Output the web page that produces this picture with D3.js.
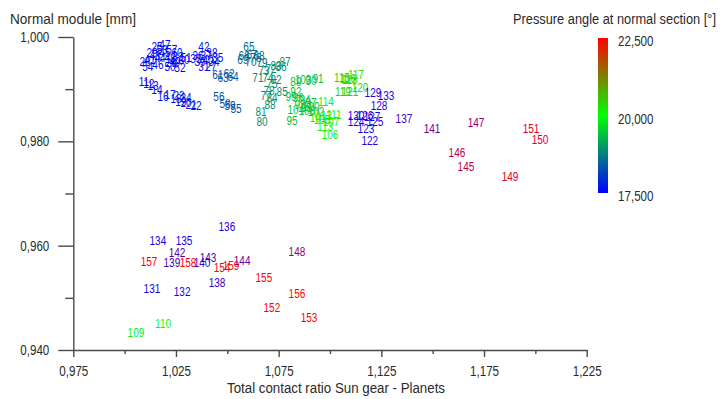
<!DOCTYPE html>
<html>
<head>
<meta charset="utf-8">
<script src="https://cdn.jsdelivr.net/npm/d3@7"></script>
<style>
  body { margin: 0; background: #fff; }
  svg text { font-family: "Liberation Sans", Arial, sans-serif; }
</style>
</head>
<body>
<svg id="chart" width="722" height="399"></svg>
<script>
// variant numbers shown as labels
const ids = [
  41, 43, 44, 45, 46, 47, 48, 49, 50, 51, 52, 53, 54, 57, 60, 30, 32, 29, 28, 25, 26,
  42, 36, 37, 38, 39, 40, 33, 34, 35, 31, 27,
  61, 62, 63, 64,
  65, 66, 67, 68, 69, 70, 76, 79,
  11, 12, 13, 14,
  16, 17, 18, 19, 20, 21, 22, 23, 24,
  56, 58, 59, 55,
  71, 73, 74, 72, 83, 86, 87, 82, 75, 78, 85, 77, 84, 88, 81, 80,
  89, 103, 90, 91, 99, 96, 94, 93, 97, 98, 92, 104, 108, 100, 102, 95,
  114, 112, 111, 107, 113, 105, 101, 106,
  115, 116, 117, 118, 119, 121, 120,
  129, 133, 128, 130, 126, 127, 124, 125, 123, 122,
  137, 141, 147, 146, 145, 149, 151, 150,
  136, 134, 135, 142, 143, 144, 157, 139, 158, 140, 154, 159, 148, 155, 138, 131, 132, 156, 152, 153, 110, 109
];

// Total contact ratio Sun gear - Planets
const contactRatio = [
  1.0123, 1.0148, 1.0172, 1.0196, 1.0162, 1.0196, 1.0221, 1.0245, 1.0221, 1.0299, 1.0269, 1.0182, 1.0113, 1.0230, 1.0255, 1.0289, 1.0260, 1.0133, 1.0099, 1.0158, 1.0226,
  1.0386, 1.0357, 1.0396, 1.0425, 1.0367, 1.0406, 1.0347, 1.0435, 1.0454, 1.0386, 1.0420,
  1.0454, 1.0508, 1.0479, 1.0528,
  1.0605, 1.0581, 1.0620, 1.0654, 1.0576, 1.0615, 1.0639, 1.0669,
  1.0094, 1.0118, 1.0138, 1.0157,
  1.0187, 1.0221, 1.0250, 1.0274, 1.0299, 1.0323, 1.0348, 1.0265, 1.0299,
  1.0459, 1.0489, 1.0513, 1.0542,
  1.0649, 1.0678, 1.0698, 1.0713, 1.0737, 1.0762, 1.0781, 1.0737, 1.0718, 1.0703, 1.0767, 1.0689, 1.0718, 1.0708, 1.0664, 1.0669,
  1.0834, 1.0869, 1.0908, 1.0942, 1.0810, 1.0844, 1.0878, 1.0854, 1.0908, 1.0884, 1.0834, 1.0834, 1.0888, 1.0908, 1.0932, 1.0815,
  1.0980, 1.0971, 1.1019, 1.1005, 1.0976, 1.0961, 1.0942, 1.1000,
  1.1058, 1.1088, 1.1126, 1.1097, 1.1063, 1.1097, 1.1146,
  1.1209, 1.1273, 1.1239, 1.1127, 1.1170, 1.1205, 1.1127, 1.1219, 1.1175, 1.1194,
  1.1360, 1.1497, 1.1711, 1.1618, 1.1662, 1.1877, 1.1979, 1.2023,
  1.0498, 1.0162, 1.0289, 1.0255, 1.0406, 1.0572, 1.0119, 1.0230, 1.0309, 1.0377, 1.0474, 1.0518, 1.0839, 1.0678, 1.0450, 1.0133, 1.0280, 1.0839, 1.0717, 1.0898, 1.0187, 1.0055
];

// Normal module [mm]
const normalModule = [
  0.9956, 0.9965, 0.9960, 0.9971, 0.9948, 0.9985, 0.9960, 0.9952, 0.9944, 0.9960, 0.9941, 0.9975, 0.9944, 0.9975, 0.9971, 0.9956, 0.9962, 0.9971, 0.9952, 0.9981, 0.9950,
  0.9981, 0.9965, 0.9965, 0.9971, 0.9952, 0.9956, 0.9958, 0.9952, 0.9960, 0.9944, 0.9944,
  0.9927, 0.9929, 0.9923, 0.9925,
  0.9981, 0.9965, 0.9967, 0.9964, 0.9956, 0.9952, 0.9960, 0.9950,
  0.9914, 0.9910, 0.9906, 0.9900,
  0.9885, 0.9889, 0.9881, 0.9877, 0.9875, 0.9871, 0.9868, 0.9887, 0.9883,
  0.9885, 0.9873, 0.9868, 0.9862,
  0.9923, 0.9935, 0.9923, 0.9939, 0.9946, 0.9944, 0.9952, 0.9918, 0.9910, 0.9898, 0.9895, 0.9887, 0.9883, 0.9871, 0.9856, 0.9837,
  0.9914, 0.9919, 0.9916, 0.9921, 0.9885, 0.9883, 0.9879, 0.9871, 0.9875, 0.9864, 0.9895, 0.9860, 0.9858, 0.9866, 0.9856, 0.9839,
  0.9877, 0.9850, 0.9852, 0.9837, 0.9829, 0.9841, 0.9845, 0.9812,
  0.9923, 0.9921, 0.9927, 0.9918, 0.9896, 0.9896, 0.9902,
  0.9893, 0.9887, 0.9868, 0.9850, 0.9850, 0.9847, 0.9837, 0.9837, 0.9824, 0.9802,
  0.9843, 0.9825, 0.9835, 0.9779, 0.9751, 0.9733, 0.9824, 0.9804,
  0.9636, 0.9609, 0.9609, 0.9586, 0.9578, 0.9572, 0.9570, 0.9568, 0.9568, 0.9567, 0.9557, 0.9561, 0.9588, 0.9538, 0.9530, 0.9517, 0.9511, 0.9509, 0.9482, 0.9463, 0.9450, 0.9434
];

// Pressure angle at normal section [°]
const pressureAngle = [
  17.55, 17.55, 17.55, 17.55, 17.55, 17.55, 17.55, 17.55, 17.55, 17.55, 17.55, 17.55, 17.55, 17.55, 17.55, 17.55, 17.55, 17.55, 17.55, 17.55, 17.55,
  17.65, 17.65, 17.65, 17.65, 17.65, 17.65, 17.65, 17.65, 17.65, 17.65, 17.65,
  18.35, 18.35, 18.35, 18.35,
  18.55, 18.55, 18.55, 18.55, 18.55, 18.55, 18.55, 18.55,
  17.6, 17.6, 17.6, 17.6,
  17.7, 17.7, 17.7, 17.7, 17.7, 17.7, 17.7, 17.7, 17.7,
  18.3, 18.3, 18.3, 18.3,
  18.9, 18.9, 18.9, 18.9, 18.9, 18.9, 18.9, 18.9, 18.9, 18.9, 18.9, 18.9, 18.9, 18.9, 18.9, 18.9,
  19.4, 19.4, 19.4, 19.4, 19.4, 19.4, 19.4, 19.4, 19.4, 19.4, 19.4, 19.4, 19.4, 19.4, 19.4, 19.4,
  20.1, 20.1, 20.1, 20.1, 20.1, 20.1, 20.1, 20.1,
  20.4, 20.4, 20.4, 20.4, 20.4, 20.4, 20.4,
  17.25, 17.25, 17.25, 17.25, 17.25, 17.25, 17.25, 17.25, 17.25, 17.25,
  17.0, 16.5, 16.1, 15.8, 15.7, 15.35, 15.35, 15.3,
  17.25, 17.25, 17.25, 16.7, 16.7, 16.5, 22.5, 16.8, 22.5, 17.0, 22.3, 22.4, 16.1, 22.5, 17.0, 17.25, 17.2, 22.5, 22.5, 22.5, 20.0, 19.9
];

const xTicks = [0.975, 1.025, 1.075, 1.125, 1.175, 1.225];
const xMinor = [1.000, 1.050, 1.100, 1.150, 1.200];
const yTicks = [0.940, 0.960, 0.980, 1.000];
const yMinor = [0.950, 0.970, 0.990];
const colorTicks = [17.5, 20, 22.5];

const svg = d3.select("#chart");
const plotLeft = 73.3, plotRight = 586.7, plotTop = 37, plotBottom = 350;
const axisColor = "#4a4a4a", textColor = "#2a2a2a";

const x = d3.scaleLinear().domain([0.975, 1.225]).range([plotLeft, plotRight]);
const y = d3.scaleLinear().domain([0.94, 1.0]).range([plotBottom, plotTop]);
// points below 17.5 wrap round through purple back to red
const color = d3.scaleLinear()
  .domain([15, 17.5, 20, 22.5])
  .range(["#ff0000", "#0000ff", "#00ff00", "#ff0000"]);

const fmt = v => d3.format(".3f")(v).replace(".", ",");

// the original uses a narrow font, squeeze the glyphs to match
function condense(sel, ratio) {
  sel.each(function () {
    const w = this.getComputedTextLength();
    d3.select(this).attr("textLength", w * ratio).attr("lengthAdjust", "spacingAndGlyphs");
  });
}

function styleAxis(g) {
  g.selectAll("path, line").attr("stroke", axisColor).attr("stroke-width", 1.4);
  g.selectAll("text").attr("fill", textColor).attr("font-size", 14.5).call(condense, 0.8);
}

// y axis
svg.append("g")
  .attr("transform", `translate(${plotLeft},0)`)
  .call(d3.axisLeft(y).tickValues(yTicks).tickSize(15).tickSizeOuter(0).tickPadding(9).tickFormat(fmt))
  .call(styleAxis);
svg.append("g")
  .attr("transform", `translate(${plotLeft},0)`)
  .call(d3.axisLeft(y).tickValues(yMinor).tickSize(8).tickFormat(""))
  .call(g => g.select(".domain").remove())
  .call(styleAxis);

// x axis
svg.append("g")
  .attr("transform", `translate(0,${plotBottom})`)
  .call(d3.axisBottom(x).tickValues(xTicks).tickSize(7).tickSizeOuter(0).tickPadding(9).tickFormat(fmt))
  .call(styleAxis);
svg.append("g")
  .attr("transform", `translate(0,${plotBottom})`)
  .call(d3.axisBottom(x).tickValues(xMinor).tickSize(4).tickFormat(""))
  .call(g => g.select(".domain").remove())
  .call(styleAxis);

// axis titles
svg.append("text").attr("x", 10).attr("y", 24)
  .attr("font-size", 15.5).attr("fill", textColor)
  .attr("textLength", 126).attr("lengthAdjust", "spacingAndGlyphs")
  .text("Normal module [mm]");
svg.append("text").attr("x", 336).attr("y", 393)
  .attr("text-anchor", "middle").attr("font-size", 15.5).attr("fill", textColor)
  .attr("textLength", 218).attr("lengthAdjust", "spacingAndGlyphs")
  .text("Total contact ratio Sun gear - Planets");

// labelled points
svg.append("g").selectAll("text")
  .data(d3.range(ids.length))
  .join("text")
  .attr("x", i => x(contactRatio[i]))
  .attr("y", i => y(normalModule[i]))
  .attr("dy", "0.35em")
  .attr("text-anchor", "middle")
  .attr("font-size", 12.5)
  .attr("fill", i => color(pressureAngle[i]))
  .text(i => ids[i])
  .call(condense, 0.8);

// colour bar
const cb = d3.scaleLinear().domain([17.5, 22.5]).range([193, 38]);
const grad = svg.append("defs").append("linearGradient")
  .attr("id", "cbar").attr("x1", 0).attr("y1", 1).attr("x2", 0).attr("y2", 0);
grad.selectAll("stop")
  .data(colorTicks)
  .join("stop")
  .attr("offset", d => (d - 17.5) / 5)
  .attr("stop-color", d => color(d));

svg.append("rect")
  .attr("x", 598).attr("y", cb(22.5))
  .attr("width", 10).attr("height", cb(17.5) - cb(22.5))
  .attr("fill", "url(#cbar)");

svg.append("g")
  .attr("transform", "translate(608,3)")
  .call(d3.axisRight(cb).tickValues(colorTicks).tickSize(0).tickPadding(10).tickFormat(fmt))
  .call(g => g.select(".domain").remove())
  .call(styleAxis);

svg.append("text").attr("x", 716).attr("y", 24)
  .attr("text-anchor", "end").attr("font-size", 15.5).attr("fill", textColor)
  .attr("textLength", 203).attr("lengthAdjust", "spacingAndGlyphs")
  .text("Pressure angle at normal section [°]");
</script>
</body>
</html>
